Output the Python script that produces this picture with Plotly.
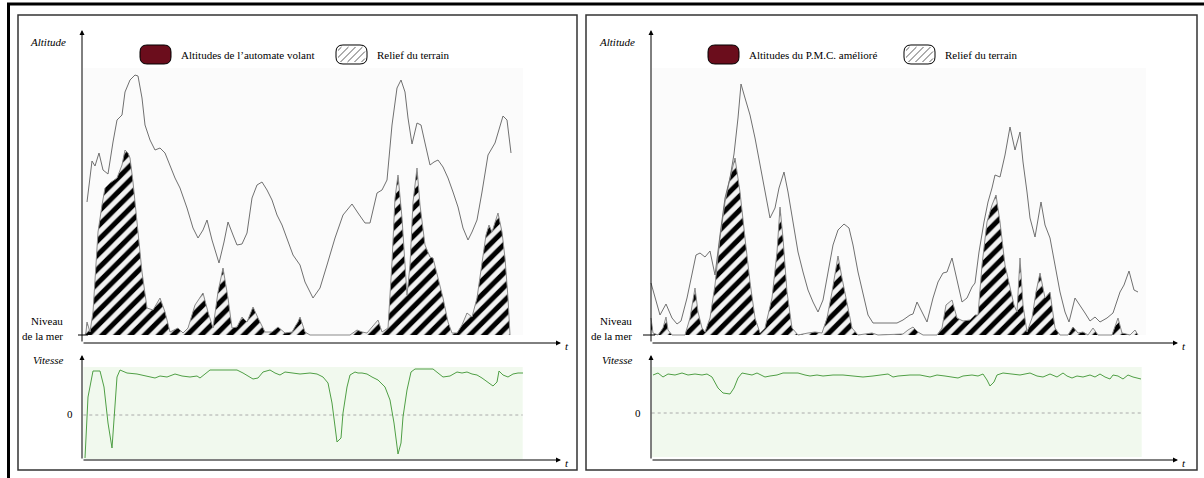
import plotly.graph_objects as go

W, H = 1204, 478

# ---------------- data ----------------
# Panel 1 : automate volant
F1_T = [5,10,13,17,21,26,31,35,40,43,48,53,56,60,63,68,73,78,83,88,93,98,105,111,116,121,125,130,137,142,
        146,151,155,160,165,170,175,180,185,190,195,200,205,211,218,223,231,238,245,253,261,270,276,283,288,295,
        300,305,310,315,319,323,326,330,335,339,343,348,352,356,361,366,371,376,381,386,390,395,400,406,413,417,
        421,425,429]
F1_A = [133,174,169,182,165,161,193,215,220,243,255,260,259,237,210,195,185,187,182,170,157,147,127,107,97,105,
        115,95,72,93,113,100,90,91,102,137,150,153,145,135,120,110,97,80,70,53,37,47,70,97,120,131,122,112,112,142,
        145,155,210,247,255,243,217,191,212,210,192,170,173,175,168,157,143,128,107,95,103,115,143,180,192,205,
        219,215,182]
R1_T = [3,4,5,8,11,16,20,23,28,35,40,43,46,48,51,56,60,65,71,78,83,88,93,96,101,106,113,121,126,131,136,141,146,
        150,155,160,165,171,176,183,190,196,203,210,214,216,218,223,228,268,275,280,285,290,296,300,306,310,313,
        316,320,325,328,331,335,338,343,348,351,356,361,366,370,375,380,385,390,395,400,404,407,410,416,420,423,
        426,428]
R1_A = [0,3,13,3,23,103,130,147,152,157,170,185,182,177,153,103,63,27,25,37,23,3,5,7,2,7,30,42,23,7,43,67,37,7,8,
        18,13,28,17,3,3,8,2,3,10,13,18,3,0,0,5,3,2,8,15,3,7,73,137,160,117,40,70,133,167,130,90,78,77,57,37,13,2,2,
        10,22,18,37,70,100,110,103,122,103,77,37,0]
V1_T = [3,6,11,18,22,26,30,33,35,38,45,55,65,73,78,85,93,100,108,115,118,123,128,155,161,171,176,181,188,193,198,
        203,211,218,228,235,241,246,250,253,255,259,261,265,268,273,276,280,285,290,296,303,308,312,315,316,319,
        321,325,329,333,351,356,361,368,375,380,385,390,395,400,405,411,415,417,421,426,431,436,441]
V1_V = [-43,18,44,44,28,-8,-33,12,38,45,42,41,39,37,39,38,41,39,38,39,37,41,45,45,42,36,37,43,45,42,40,43,42,41,
        42,41,38,32,12,-15,-27,-23,2,28,40,43,42,42,41,38,35,28,15,-8,-28,-39,-28,-2,25,43,46,46,42,38,39,43,42,
        43,41,40,37,33,29,33,44,40,38,41,42,42]

# Panel 2 : P.M.C. amélioré
F2_T = [0,4,9,15,21,26,30,36,41,45,49,54,59,64,69,74,79,83,87,90,94,99,104,109,114,119,124,128,133,137,142,147,
        152,157,162,167,172,177,182,187,193,198,202,207,212,217,222,234,246,252,259,262,266,271,276,282,287,292,
        296,301,306,311,316,321,324,328,333,337,341,344,349,354,359,364,369,372,376,379,384,390,394,399,404,409,
        414,418,424,429,434,439,444,449,456,462,469,473,478,483,487]
F2_A = [52,37,20,31,17,11,14,37,63,80,82,78,84,60,100,137,157,181,217,251,237,220,197,170,143,117,127,147,163,
        143,113,83,63,45,33,23,35,63,90,105,111,107,90,63,40,20,12,12,12,15,20,21,33,23,13,37,53,62,63,77,55,33,
        37,48,52,83,113,133,147,160,158,180,208,185,203,173,143,117,98,133,110,97,70,43,23,13,37,30,22,14,18,13,
        17,22,43,50,64,45,43]
R2_T = [0,2,7,12,15,17,21,34,39,44,47,51,54,59,64,69,74,79,84,89,94,99,104,109,114,121,126,129,132,136,141,147,
        157,164,171,176,181,187,191,196,201,207,221,227,252,257,262,267,272,286,291,295,301,306,312,319,324,327,
        331,336,341,345,349,354,358,363,366,369,372,376,381,385,389,394,399,404,409,417,422,427,432,437,442,447,
        461,467,471,479,484,487]
R2_A = [17,2,0,7,18,5,0,0,17,47,23,7,3,17,50,97,133,157,177,143,97,53,17,2,7,37,83,128,97,43,7,0,2,3,2,17,43,79,
        57,30,7,0,2,0,1,5,8,3,0,0,7,30,35,17,14,15,20,20,70,113,130,140,113,70,52,30,23,77,30,3,17,43,62,37,43,7,
        0,0,8,2,3,0,7,0,0,17,2,0,5,0]
V2_T = [2,7,12,17,24,31,37,44,51,56,61,64,67,72,79,83,87,91,96,101,106,111,114,119,126,132,137,147,154,159,166,
        172,182,192,202,212,222,232,237,242,247,259,269,279,286,294,302,307,312,321,327,332,336,339,343,346,352,
        359,369,379,386,392,399,406,412,416,421,426,432,439,444,449,454,459,462,467,472,477,482,490]
V2_V = [38,40,36,39,38,40,38,39,38,39,36,31,25,20,19,25,35,40,39,38,40,38,36,37,38,40,40,40,38,37,38,37,38,38,37,
        36,37,38,39,36,37,38,38,36,38,37,36,35,37,38,37,39,33,27,31,38,40,39,38,40,37,36,39,36,40,37,35,37,36,38,
        36,39,36,34,38,37,34,38,36,34]

LEGEND_1 = "Altitudes de l\u2019automate volant"
LEGEND_2 = "Altitudes du P.M.C. am\u00e9lior\u00e9"
LEGEND_RELIEF = "Relief du terrain"

# ---------------- helpers ----------------
def fx(px):
    return px / W

def fy(py):
    return 1 - py / H

SERIF = "Liberation Serif"
fig = go.Figure()

PATTERN = dict(shape="/", fgcolor="black", bgcolor="#f2f2f2", size=10, solidity=0.5, fgopacity=1)

def add_panel(ft, fa, rt, ra, vt, vv, xa, ya, xv, yv):
    fig.add_trace(go.Scatter(x=rt, y=ra, mode="lines", fill="tozeroy", fillpattern=PATTERN,
                             fillcolor="#f2f2f2", line=dict(color="#8a8a8a", width=1),
                             xaxis=xa, yaxis=ya, hoverinfo="skip"))
    fig.add_trace(go.Scatter(x=ft, y=fa, mode="lines", line=dict(color="#707070", width=1),
                             xaxis=xa, yaxis=ya))
    fig.add_trace(go.Scatter(x=vt, y=vv, mode="lines", line=dict(color="#4f9f45", width=1),
                             xaxis=xv, yaxis=yv))

add_panel(F1_T, F1_A, R1_T, R1_A, V1_T, V1_V, "x", "y", "x2", "y2")
add_panel(F2_T, F2_A, R2_T, R2_A, V2_T, V2_V, "x3", "y3", "x4", "y4")

def axis(domain, rng, anchor):
    return dict(domain=domain, range=rng, anchor=anchor, visible=False, fixedrange=True)

shapes = []
annotations = []

# backgrounds
shapes += [
    dict(type="rect", xref="x", yref="y", x0=1, x1=441, y0=0, y1=267, fillcolor="#fbfbfb", line_width=0, layer="below"),
    dict(type="rect", xref="x3", yref="y3", x0=1, x1=495, y0=0, y1=267, fillcolor="#fbfbfb", line_width=0, layer="below"),
    dict(type="rect", xref="x2", yref="y2", x0=1.3, x1=440.7, y0=-44, y1=48, fillcolor="#f1f9ee", line_width=0, layer="below"),
    dict(type="rect", xref="x4", yref="y4", x0=0.7, x1=490.7, y0=-44, y1=46, fillcolor="#f1f9ee", line_width=0, layer="below"),
    dict(type="line", xref="x2", yref="y2", x0=1.3, x1=440.7, y0=0, y1=0, line=dict(color="#aaaaaa", width=1, dash="dot"), layer="below"),
    dict(type="line", xref="x4", yref="y4", x0=0.7, x1=490.7, y0=0, y1=0, line=dict(color="#aaaaaa", width=1, dash="dot"), layer="below"),
    # sea level ticks
    dict(type="line", xref="x", yref="y", x0=-4, x1=6, y0=0, y1=0, line=dict(color="black", width=1)),
    dict(type="line", xref="x3", yref="y3", x0=-8, x1=4, y0=0, y1=0, line=dict(color="black", width=1)),
]

# axis arrows
def arrow(xr, yr, x, y, ax_, ay_):
    annotations.append(dict(xref=xr, yref=yr, axref=xr, ayref=yr, x=x, y=y, ax=ax_, ay=ay_, text="",
                            showarrow=True, arrowhead=2, arrowsize=1, arrowwidth=1, arrowcolor="black"))

arrow("x", "y", 0, 305, 0, -8)
arrow("x", "y", 479, -8, 0, -8)
arrow("x2", "y2", 0, 60, 0, -45)
arrow("x2", "y2", 479, -45, 0, -45)
arrow("x3", "y3", 0, 305, 0, -8)
arrow("x3", "y3", 527, -8, 0, -8)
arrow("x4", "y4", 0, 58, 0, -47)
arrow("x4", "y4", 527, -47, 0, -47)

# frames
shapes += [
    dict(type="rect", xref="paper", yref="paper", x0=fx(18), x1=fx(577), y0=fy(470), y1=fy(15), line=dict(color="#333333", width=1.5)),
    dict(type="rect", xref="paper", yref="paper", x0=fx(586), x1=fx(1197), y0=fy(470), y1=fy(15), line=dict(color="#333333", width=1.5)),
    dict(type="line", xref="paper", yref="paper", x0=fx(7), x1=fx(1204), y0=fy(4), y1=fy(4), line=dict(color="black", width=3)),
    dict(type="line", xref="paper", yref="paper", x0=fx(8.5), x1=fx(8.5), y0=fy(3), y1=fy(478), line=dict(color="black", width=3)),
]

def pt(x, y):
    return f"{fx(x):.5f},{fy(y):.5f}"

def rrect(x0, y0, x1, y1, r):
    return (f"M{pt(x0 + r, y0)} L{pt(x1 - r, y0)} Q{pt(x1, y0)} {pt(x1, y0 + r)} "
            f"L{pt(x1, y1 - r)} Q{pt(x1, y1)} {pt(x1 - r, y1)} L{pt(x0 + r, y1)} "
            f"Q{pt(x0, y1)} {pt(x0, y1 - r)} L{pt(x0, y0 + r)} Q{pt(x0, y0)} {pt(x0 + r, y0)} Z")

def hatch(x0, y0, x1, y1, step=7, inset=2):
    xa, xb, ya, yb = x0 + inset, x1 - inset, y0 + inset, y1 - inset
    p = ""
    c = xa + ya + step / 2
    while c < xb + yb:
        xs = max(xa, c - yb)
        xe = min(xb, c - ya)
        if xe - xs > 1:
            p += f"M{pt(xs, c - xs)} L{pt(xe, c - xe)} "
        c += step
    return p

def legend(x_red, x_hatch, y0=45, y1=64, w=31):
    shapes.append(dict(type="path", xref="paper", yref="paper", path=rrect(x_red, y0, x_red + w, y1, 7),
                       fillcolor="#6b0d1c", line=dict(color="black", width=1)))
    shapes.append(dict(type="path", xref="paper", yref="paper", path=hatch(x_hatch, y0, x_hatch + w, y1),
                       line=dict(color="#333333", width=0.8)))
    shapes.append(dict(type="path", xref="paper", yref="paper", path=rrect(x_hatch, y0, x_hatch + w, y1, 7),
                       fillcolor="rgba(0,0,0,0)", line=dict(color="black", width=1)))

legend(140, 336)
legend(708, 904)

def text(s, x, y, anchor="left", italic=False, size=11):
    annotations.append(dict(xref="paper", yref="paper", x=fx(x), y=fy(y), text=s, showarrow=False,
                            xanchor=anchor, yanchor="middle",
                            font=dict(family=SERIF, size=size, color="black",
                                      style="italic" if italic else "normal")))

# panel 1 texts
text("Altitude", 68, 42, "right", True)
text(LEGEND_1, 179, 55)
text(LEGEND_RELIEF, 375, 55)
text("Niveau", 65, 321, "right")
text("de la mer", 65, 336, "right")
text("t", 567, 346, "center", True)
text("Vitesse", 65, 360, "right", True)
text("0", 70, 414, "center")
text("t", 567, 463, "center", True)
# panel 2 texts
text("Altitude", 637, 42, "right", True)
text(LEGEND_2, 747, 55)
text(LEGEND_RELIEF, 943, 55)
text("Niveau", 634, 321, "right")
text("de la mer", 634, 336, "right")
text("t", 1184, 346, "center", True)
text("Vitesse", 634, 360, "right", True)
text("0", 638, 413, "center")
text("t", 1184, 463, "center", True)

fig.update_layout(
    width=W, height=H, margin=dict(l=0, r=0, t=0, b=0),
    paper_bgcolor="white", plot_bgcolor="white", showlegend=False,
    xaxis=axis([fx(70), fx(565)], [-12, 483], "y"),
    yaxis=axis([fy(345), fy(28)], [-10, 307], "x"),
    xaxis2=axis([fx(70), fx(565)], [-12, 483], "y2"),
    yaxis2=axis([fy(462), fy(353)], [-47, 62], "x2"),
    xaxis3=axis([fx(639), fx(1182)], [-12, 531], "y3"),
    yaxis3=axis([fy(345), fy(28)], [-10, 307], "x3"),
    xaxis4=axis([fx(639), fx(1182)], [-12, 531], "y4"),
    yaxis4=axis([fy(462), fy(353)], [-49, 60], "x4"),
    shapes=shapes, annotations=annotations,
)

fig.write_html("out.html", config={"displayModeBar": False},
               post_script="document.body.style.margin='0';document.body.style.overflow='hidden';")
